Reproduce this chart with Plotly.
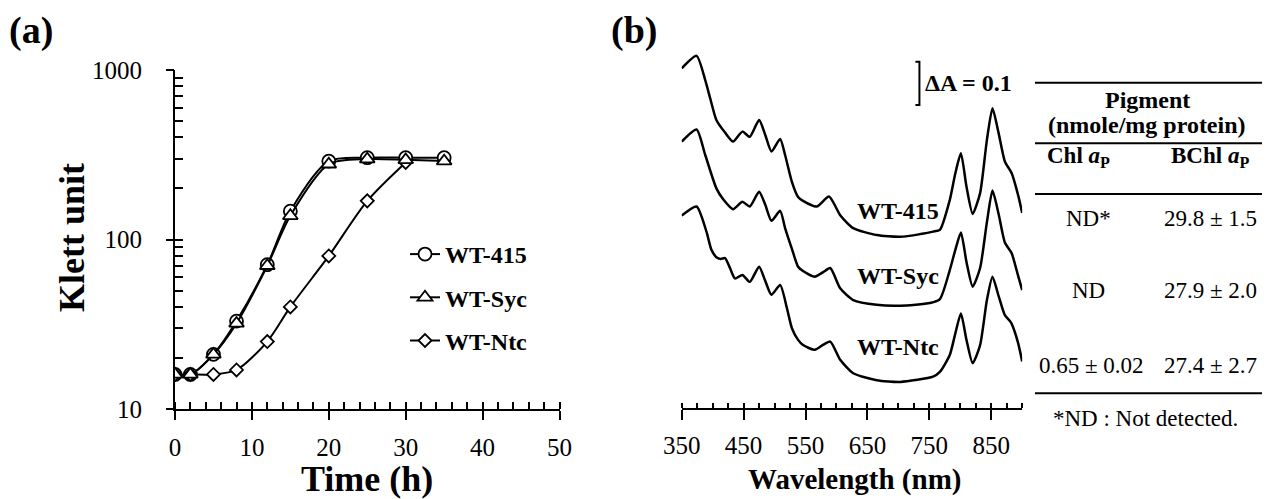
import plotly.graph_objects as go

W, H = 1271, 499
FONT = "Liberation Serif"

# ---------------- Panel (a): growth curves ----------------
time_h = [0, 2, 5, 8, 12, 15, 20, 25, 30, 35]
wt415 = [16, 16, 21, 33, 71, 147, 290, 304, 304, 304]
wtsyc = [16, 16, 21, 32, 70, 138, 278, 298, 295, 290]
time_ntc = [0, 2, 5, 8, 12, 15, 20, 25, 30]
wtntc = [16, 16, 16, 17, 25, 40, 80, 169, 285]

x_ticks_a = [0, 10, 20, 30, 40, 50]
y_ticks_a = [10, 100, 1000]
y_all_ticks_a = [10, 20, 30, 40, 50, 60, 70, 80, 90,
                 100, 200, 300, 400, 500, 600, 700, 800, 900, 1000]

# ---------------- Panel (b): absorption spectra ----------------
nm_415 = [350, 374, 388, 396, 406, 420, 433, 448, 460, 475, 485, 495, 509, 517, 528, 538, 546,
          568, 588, 606, 627, 665, 703, 756, 767, 783, 792, 801, 810, 820, 832, 843, 852, 862,
          872, 883, 894, 900]
abs_415 = [0.812, 0.841, 0.785, 0.743, 0.693, 0.664, 0.643, 0.666, 0.654, 0.693, 0.658, 0.620,
           0.649, 0.612, 0.550, 0.515, 0.506, 0.493, 0.516, 0.473, 0.443, 0.427, 0.423, 0.435,
           0.439, 0.508, 0.570, 0.616, 0.539, 0.476, 0.524, 0.647, 0.720, 0.662, 0.597, 0.570,
           0.516, 0.478]

nm_syc = [350, 374, 388, 406, 417, 433, 448, 460, 475, 485, 495, 509, 517, 528, 538, 546, 565,
          579, 590, 606, 627, 665, 703, 751, 767, 783, 792, 801, 810, 820, 832, 843, 852, 862,
          872, 883, 893, 900]
abs_syc = [0.643, 0.671, 0.612, 0.535, 0.510, 0.487, 0.504, 0.493, 0.527, 0.497, 0.460, 0.483,
           0.443, 0.395, 0.354, 0.344, 0.331, 0.342, 0.351, 0.304, 0.277, 0.266, 0.264, 0.270,
           0.279, 0.346, 0.393, 0.433, 0.365, 0.308, 0.351, 0.457, 0.530, 0.475, 0.410, 0.385,
           0.335, 0.300]

nm_ntc = [350, 374, 390, 398, 406, 413, 420, 428, 436, 448, 460, 475, 485, 495, 509, 520, 528,
          538, 546, 565, 579, 590, 606, 627, 665, 703, 756, 767, 783, 792, 801, 810, 820, 832,
          843, 852, 862, 872, 882, 893, 900]
abs_ntc = [0.472, 0.493, 0.435, 0.393, 0.376, 0.372, 0.374, 0.351, 0.327, 0.335, 0.319, 0.354,
           0.321, 0.289, 0.312, 0.258, 0.212, 0.185, 0.173, 0.162, 0.174, 0.181, 0.139, 0.108,
           0.092, 0.088, 0.100, 0.111, 0.150, 0.200, 0.246, 0.185, 0.131, 0.173, 0.277, 0.331,
           0.286, 0.242, 0.225, 0.180, 0.135]

x_ticks_b = [350, 450, 550, 650, 750, 850]
scale_bar_dA = 0.1
scale_bar_nm = 734
scale_bar_top = 0.8275

# table
table_header = ["Pigment", "(nmole/mg protein)"]
table_cols = ["Chl <i>a</i><sub>P</sub>", "BChl <i>a</i><sub>P</sub>"]
table_chl = ["ND*", "ND", "0.65 ± 0.02"]
table_bchl = ["29.8 ± 1.5", "27.9 ± 2.0", "27.4 ± 2.7"]
footnote = "*ND : Not detected."
strains = ["WT-415", "WT-Syc", "WT-Ntc"]


def px(x):
    return x / W


def py(y):
    return 1 - y / H


fig = go.Figure()

line_a = dict(color="black", width=2, shape="spline", smoothing=0.8)
mk_line = dict(color="black", width=1.8)
# traces spread over the main and overlay axes so that the overlay tick axes are drawn
fig.add_trace(go.Scatter(x=time_h, y=wt415, mode="lines+markers", name=strains[0],
                         legendgroup="g1", line=line_a,
                         marker=dict(symbol="circle", size=13, color="white", line=mk_line),
                         xaxis="x", yaxis="y"))
fig.add_trace(go.Scatter(x=time_h, y=wtsyc, mode="lines+markers", name=strains[1],
                         legendgroup="g2", line=line_a,
                         marker=dict(symbol="triangle-up", size=13, color="white", line=mk_line),
                         xaxis="x3", yaxis="y"))
fig.add_trace(go.Scatter(x=time_ntc, y=wtntc, mode="lines+markers", name=strains[2],
                         legendgroup="g3", line=line_a,
                         marker=dict(symbol="diamond", size=10, color="white", line=mk_line),
                         xaxis="x", yaxis="y3"))

line_b = dict(color="black", width=2.5, shape="spline", smoothing=0.6)
for nm, ab, xa in [(nm_415, abs_415, "x2"), (nm_syc, abs_syc, "x4"), (nm_ntc, abs_ntc, "x2")]:
    fig.add_trace(go.Scatter(x=nm, y=ab, mode="lines", line=line_b, showlegend=False,
                             xaxis=xa, yaxis="y2", hoverinfo="skip"))

tickfont = dict(family=FONT, size=25, color="black")
dom_xa = [px(175), px(559.5)]
dom_ya = [py(409), py(70)]
dom_xb = [px(681.7), px(1022.2)]
dom_yb = [py(408.3), py(40)]
yb_range = [0.027, 0.8776]

y_text = [str(v) if v in y_ticks_a else "" for v in y_all_ticks_a]

fig.update_layout(
    width=W, height=H, autosize=False,
    margin=dict(l=0, r=0, t=0, b=0, pad=0, autoexpand=False),
    paper_bgcolor="white", plot_bgcolor="rgba(0,0,0,0)",
    font=dict(family=FONT, color="black"),
    showlegend=True,
    legend=dict(x=px(405), y=py(232), xanchor="left", yanchor="top",
                font=dict(family=FONT, size=24, color="black", weight="bold"),
                bgcolor="rgba(0,0,0,0)", traceorder="grouped", tracegroupgap=9,
                itemwidth=30),
    # panel (a) x: major ticks outside, minor ticks inside
    xaxis=dict(domain=dom_xa, range=[0, 50], anchor="y", showline=True, linecolor="black",
               linewidth=2, ticks="outside", ticklen=9, tickwidth=2, tickcolor="black",
               tickvals=x_ticks_a, tickfont=tickfont, showgrid=False, zeroline=False,
               ticklabelstandoff=6, automargin=False,
               minor=dict(ticks="inside", tickmode="linear", dtick=2, tick0=0, ticklen=7,
                          tickwidth=2, tickcolor="black", showgrid=False)),
    # panel (a) y (log): every decade digit ticked inside, labels only on decades
    yaxis=dict(domain=dom_ya, type="log", range=[1, 3], anchor="x", showline=True,
               linecolor="black", linewidth=2, ticks="inside", ticklen=8, tickwidth=2,
               tickcolor="black", tickmode="array", tickvals=y_all_ticks_a, ticktext=y_text,
               tickfont=tickfont, showgrid=False, zeroline=False, ticklabelstandoff=26,
               automargin=False),
    # overlays carrying the other half of the major ticks
    xaxis3=dict(domain=dom_xa, range=[0, 50], anchor="y", overlaying="x", side="bottom",
                showline=False, ticks="inside", ticklen=7, tickwidth=2, tickcolor="black",
                tickvals=x_ticks_a, showticklabels=False, showgrid=False, zeroline=False,
                automargin=False),
    yaxis3=dict(domain=dom_ya, type="log", range=[1, 3], anchor="x", overlaying="y",
                side="left", showline=False, ticks="outside", ticklen=8, tickwidth=2,
                tickcolor="black", tickvals=y_ticks_a,
                showticklabels=False, showgrid=False, zeroline=False, automargin=False),
    # panel (b)
    xaxis2=dict(domain=dom_xb, range=[350, 900], anchor="y2", showline=True, linecolor="black",
                linewidth=2, ticks="outside", ticklen=10, tickwidth=2, tickcolor="black",
                tickvals=x_ticks_b, tickfont=tickfont, showgrid=False, zeroline=False,
                ticklabelstandoff=4, automargin=False,
                minor=dict(ticks="inside", tickmode="linear", dtick=25, tick0=350, ticklen=5,
                           tickwidth=2, tickcolor="black", showgrid=False)),
    yaxis2=dict(domain=dom_yb, range=yb_range, anchor="x2", visible=False),
    xaxis4=dict(domain=dom_xb, range=[350, 900], anchor="y2", overlaying="x2", side="bottom",
                showline=False, ticks="inside", ticklen=5, tickwidth=2, tickcolor="black",
                tickvals=x_ticks_b, showticklabels=False, showgrid=False, zeroline=False,
                automargin=False),
)

ann = []


def txt(x, y, s, size, bold=False, xanchor="center", textangle=0):
    ann.append(dict(x=px(x), y=py(y), xref="paper", yref="paper", text=(f"<b>{s}</b>" if bold else s),
                    showarrow=False, xanchor=xanchor, yanchor="middle", textangle=textangle,
                    font=dict(family=FONT, size=size, color="black")))


txt(31, 31, "(a)", 38, bold=True)
txt(634, 31, "(b)", 38, bold=True)
txt(72, 238, "Klett unit", 36, bold=True, textangle=-90)
txt(367, 479, "Time (h)", 36, bold=True)
txt(854, 479, "Wavelength (nm)", 29, bold=True)
for s, yy in zip(strains, [211, 276, 347]):
    txt(855, yy, s, 24, bold=True, xanchor="left")
txt(923, 83, "ΔA = 0.1", 24, bold=True, xanchor="left")
txt(1147, 100, table_header[0], 24, bold=True)
txt(1147, 125, table_header[1], 24, bold=True)
txt(1078, 157, table_cols[0], 23, bold=True)
txt(1210, 157, table_cols[1], 23, bold=True)
for i, yy in enumerate([218, 290, 365]):
    txt(1088 if i < 2 else 1091, yy, table_chl[i], 23)
    txt(1210, yy, table_bchl[i], 23)
txt(1145, 418, footnote, 23)
fig.update_layout(annotations=ann)

shapes = []
for yy in [82.7, 143.3, 194, 393.3]:
    shapes.append(dict(type="line", xref="paper", yref="paper", x0=px(1035), x1=px(1262),
                       y0=py(yy), y1=py(yy), line=dict(color="black", width=2)))
# scale bar (ΔA = 0.1) in data coordinates of panel (b)
sb_left = scale_bar_nm - 6.5
sb_bot = scale_bar_top - scale_bar_dA
shapes.append(dict(type="path", xref="x2", yref="y2",
                   path=f"M {sb_left},{scale_bar_top} L {scale_bar_nm},{scale_bar_top} "
                        f"L {scale_bar_nm},{sb_bot} L {sb_left},{sb_bot}",
                   line=dict(color="black", width=2)))
fig.update_layout(shapes=shapes)

fig.write_html("out.html")
